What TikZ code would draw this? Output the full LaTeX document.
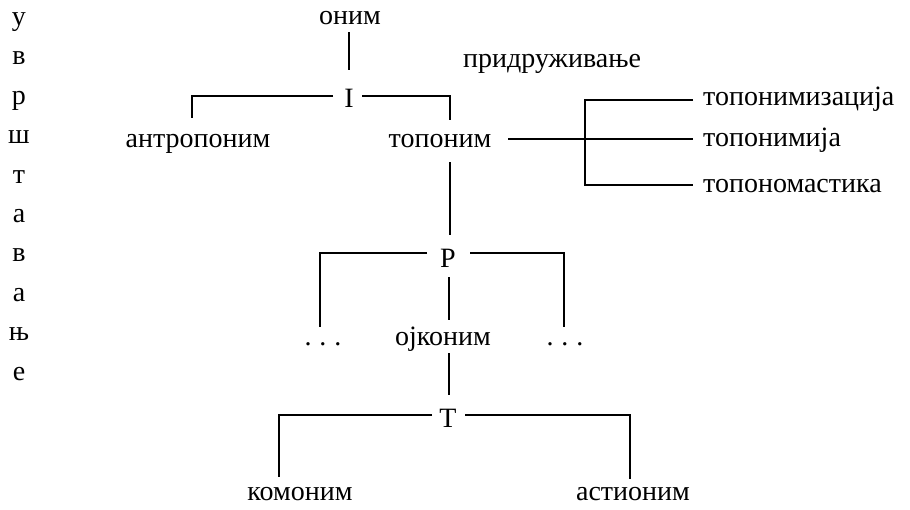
\documentclass[tikz,border=0pt]{standalone}
\usepackage{fontspec}
\setmainfont{Liberation Serif}
\begin{document}
\begin{tikzpicture}[x=1pt,y=-1pt,
  lbl/.style={inner sep=0pt,anchor=base,font=\fontsize{28}{28}\selectfont},
  ln/.style={line width=1.7pt}]
\useasboundingbox (0,0) rectangle (910,509);
% left vertical word
\foreach \ch [count=\i from 0] in {у,в,р,ш,т,а,в,а,њ,е}
  \node[lbl] (v\i) at (19,{25.5+39.4*\i}) {\ch};
\node[lbl] (onim) at (350,24) {оним};
\node[lbl] (I) at (349,107) {I};
\node[lbl,anchor=base west] (prid) at (463,67) {придруживање};
\node[lbl] (antr) at (198,147) {антропоним};
\node[lbl] (topo) at (440,147) {топоним};
\node[lbl,anchor=base west] (tz) at (703,105) {топонимизација};
\node[lbl,anchor=base west] (tj) at (703,146) {топонимија};
\node[lbl,anchor=base west] (tm) at (703,192) {топономастика};
\node[lbl] (P) at (448,267) {Р};
\node[lbl] (d1) at (323,345) {.\hspace{8pt}.\hspace{8pt}.};
\node[lbl] (ojk) at (443,345) {ојконим};
\node[lbl] (d2) at (565,345) {.\hspace{8pt}.\hspace{8pt}.};
\node[lbl] (T) at (448,427) {Т};
\node[lbl] (kom) at (300,500) {комоним};
\node[lbl] (ast) at (633,500) {астионим};
% corner points
\coordinate (c1) at (192,96);
\coordinate (c2) at (450,96);
\coordinate (rb) at (585,139);
\coordinate (p1) at (320,253);
\coordinate (p2) at (564,253);
\coordinate (t1) at (279,415);
\coordinate (t2) at (630,415);
% connectors
\draw[ln] (349,32) -- (349,70);
\draw[ln] (333,96) -- (c1) -- (192,118);
\draw[ln] (362,96) -- (c2) -- (450,120);
\draw[ln] (508,139) -- (rb) -- (693,139);
\draw[ln] (693,100) -- (585,100) -- (585,185) -- (693,185);
\draw[ln] (450,162) -- (450,235);
\draw[ln] (427,253) -- (p1) -- (320,327);
\draw[ln] (470,253) -- (p2) -- (564,327);
\draw[ln] (449,277) -- (449,320);
\draw[ln] (449,353) -- (449,395);
\draw[ln] (432,415) -- (t1) -- (279,477);
\draw[ln] (465,415) -- (t2) -- (630,479);
\end{tikzpicture}
\end{document}
